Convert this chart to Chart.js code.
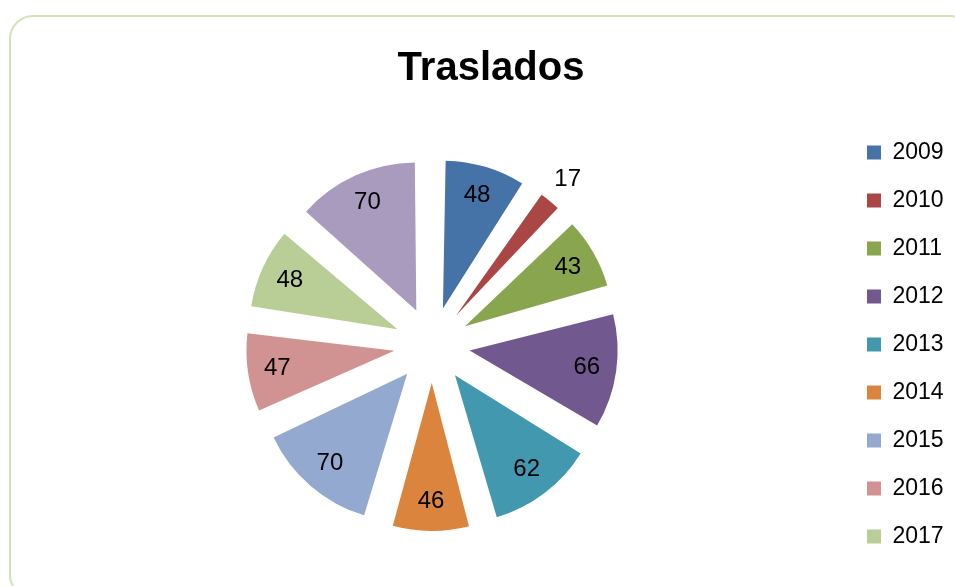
<!DOCTYPE html>
<html>
<head>
<meta charset="utf-8">
<script src="https://cdn.jsdelivr.net/npm/chart.js@4.4.1/dist/chart.umd.min.js"></script>
<style>
    html, body { margin: 0; padding: 0; background: #fff; overflow: hidden; }
    #marco {
        position: absolute; left: 9px; top: 15px;
        width: 962px; height: 580px;
        border: 2px solid #d3e3b8; border-radius: 24px;
    }
    #myChartTraslados { position: absolute; left: 0; top: 0; }
</style>
</head>
<body>
<div id="marco"></div>
<canvas id="myChartTraslados" width="960" height="586"></canvas>
<script>
const anios     = ['2009', '2010', '2011', '2012', '2013', '2014', '2015', '2016', '2017', '2018'];
const traslados = [48, 17, 43, 66, 62, 46, 70, 47, 48, 70];
const colores   = ['#4572a7', '#aa4643', '#89a54e', '#71588f', '#4198af',
                   '#db843d', '#93a9cf', '#d19392', '#b9cd96', '#a99bbd'];

// desplazamiento de cada porcion hacia fuera (px) y radio del pastel
const SEPARACION = 38;
const RADIO = 148;

// chart.js agranda el radio de las porciones desplazadas; se deja igual para todas
const mismoRadio = {
    id: 'mismoRadio',
    beforeDatasetsDraw(chart) {
        chart.getDatasetMeta(0).data.forEach(arc => {
            const fix = 1 - Math.sin(Math.min(Math.PI, arc.circumference || 0));
            arc.outerRadius = RADIO - SEPARACION * fix;
        });
    }
};

// numeros sobre cada porcion
const etiquetas = {
    id: 'etiquetas',
    afterDatasetsDraw(chart) {
        const ctx = chart.ctx;
        const meta = chart.getDatasetMeta(0);
        ctx.save();
        ctx.font = '24px "Liberation Sans"';
        ctx.fillStyle = '#000';
        ctx.textAlign = 'center';
        ctx.textBaseline = 'middle';
        meta.data.forEach((arc, i) => {
            const mid = (arc.startAngle + arc.endAngle) / 2;
            const fuera = traslados[i] < 20;
            const r = SEPARACION + (fuera ? RADIO + 28 : RADIO * 0.8);
            ctx.fillText(traslados[i], arc.x + Math.cos(mid) * r, arc.y + Math.sin(mid) * r);
        });
        ctx.restore();
    }
};

var chartTraslados = document.getElementById('myChartTraslados').getContext('2d');

let trasladosPie = new Chart(chartTraslados, {
    type: 'pie',
    data: {
        labels: anios,
        datasets: [{
            data: traslados,
            backgroundColor: colores,
            borderWidth: 0,
            offset: SEPARACION * 4,
            radius: RADIO
        }]
    },
    options: {
        responsive: false,
        animation: false,
        layout: {
            padding: { left: 22, right: 0, top: 0, bottom: 12 }
        },
        plugins: {
            title: {
                display: true,
                text: 'Traslados',
                color: '#000',
                font: { family: '"Liberation Sans"', size: 40, weight: 'bold' },
                padding: { top: 45, bottom: 23 }
            },
            legend: {
                position: 'right',
                align: 'start',
                fullSize: false,
                maxWidth: 118,
                labels: {
                    color: '#000',
                    font: { family: '"Liberation Sans"', size: 23 },
                    boxWidth: 14,
                    boxHeight: 14,
                    padding: 25
                }
            },
            tooltip: { enabled: false }
        }
    },
    plugins: [mismoRadio, etiquetas]
});
</script>
</body>
</html>
